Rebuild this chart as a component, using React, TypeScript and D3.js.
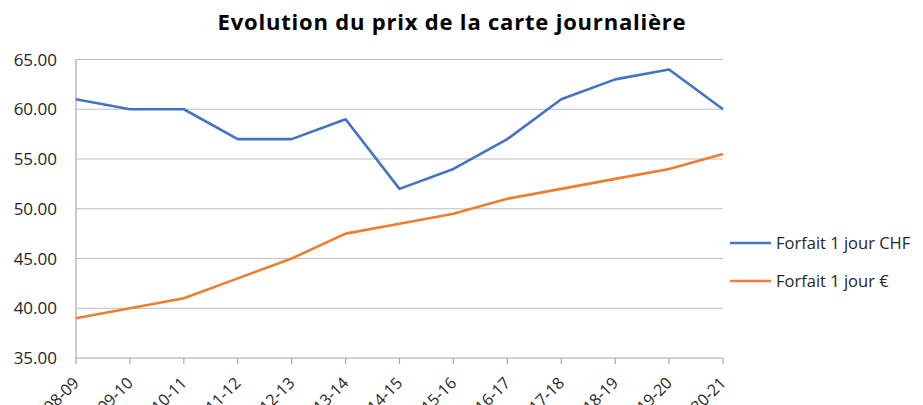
import React from "react";
import * as d3 from "d3";

const categories = ["08-09", "09-10", "10-11", "11-12", "12-13", "13-14", "14-15", "15-16", "16-17", "17-18", "18-19", "19-20", "20-21"];
const chfValues = [61, 60, 60, 57, 57, 59, 52, 54, 57, 61, 63, 64, 60];
const eurValues = [39, 40, 41, 43, 45, 47.5, 48.5, 49.5, 51, 52, 53, 54, 55.5];
const yTicks = [35, 40, 45, 50, 55, 60, 65];
const seriesNames = ["Forfait 1 jour CHF", "Forfait 1 jour €"];
const colors = ["#4472C4", "#ED7D31"];

const W = 923;
const H = 405;
const left = 76;
const right = 723;
const top = 59.5;
const bottom = 358;
const font = "'Open Sans', Lato, sans-serif";

export default function App() {
  const x = d3.scalePoint<string>().domain(categories).range([left, right]);
  const y = d3.scaleLinear().domain([35, 65]).range([bottom, top]);
  const line = d3
    .line<number>()
    .x((_, i) => x(categories[i]) as number)
    .y((d) => y(d));
  const series = [chfValues, eurValues];

  return (
    <svg width={W} height={H} style={{ position: "absolute", left: 0, top: 0, background: "#fff" }}>
      <rect x={0} y={0} width={W} height={H} fill="#fff" />
      <text x={452} y={30} textAnchor="middle" fontFamily={font} fontWeight="bold" fontSize={22} letterSpacing={0.8} fill="#000">
        Evolution du prix de la carte journalière
      </text>
      {yTicks.map((t) => (
        <g key={t}>
          {t !== 35 && (
            <line x1={left} x2={right} y1={y(t)} y2={y(t)} stroke="#BFBFBF" strokeWidth={1.2} />
          )}
          <text x={57} y={y(t) + 6} textAnchor="end" fontFamily={font} fontSize={17} fill="#262626">
            {t.toFixed(2)}
          </text>
        </g>
      ))}
      <line x1={left} x2={left} y1={top} y2={bottom} stroke="#A6A6A6" strokeWidth={1.2} />
      <line x1={left} x2={right} y1={bottom} y2={bottom} stroke="#A6A6A6" strokeWidth={1.2} />
      {categories.map((c) => {
        const cx = x(c) as number;
        return (
          <g key={c}>
            <line x1={cx} x2={cx} y1={bottom} y2={bottom + 6} stroke="#A6A6A6" strokeWidth={1.2} />
            <text
              transform={`translate(${cx + 4},${bottom + 26}) rotate(-45)`}
              textAnchor="end"
              fontFamily={font}
              fontSize={16}
              fill="#262626"
            >
              {c}
            </text>
          </g>
        );
      })}
      {series.map((s, i) => (
        <path key={i} d={line(s) || ""} fill="none" stroke={colors[i]} strokeWidth={2.6} strokeLinejoin="round" />
      ))}
      {seriesNames.map((n, i) => (
        <g key={n}>
          <line x1={730} x2={771} y1={243 + i * 38} y2={243 + i * 38} stroke={colors[i]} strokeWidth={2.6} />
          <text x={776} y={243 + i * 38 + 6} fontFamily={font} fontSize={16.5} fill="#262626">
            {n}
          </text>
        </g>
      ))}
    </svg>
  );
}
